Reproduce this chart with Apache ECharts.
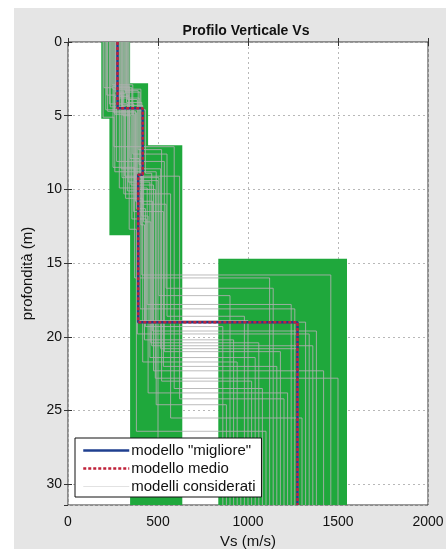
<!DOCTYPE html>
<html><head><meta charset="utf-8">
<script src="https://cdn.jsdelivr.net/npm/echarts@6/dist/echarts.min.js"></script>
<style>html,body{margin:0;padding:0;background:#fff}#c{width:446px;height:549px}</style>
</head><body><div id="c"></div>
<script>
// ---- data ----
const xTicks = [0, 500, 1000, 1500, 2000];
const yTicks = [0, 5, 10, 15, 20, 25, 30];
const depthMax = 31.4;
// search ranges: [VsMin, VsMax, depthTop, depthBottom]
const searchRanges = [
  [185, 345, 0, 5.2],
  [230, 445, 2.8, 13.1],
  [345, 635, 7.0, 31.4],
  [835, 1550, 14.7, 31.4]
];
// best / mean model
const bestVs = [275, 415, 390, 1275];
const bestDepth = [4.5, 9.0, 19.0];
const meanVs = [275, 415, 390, 1275];
const meanDepth = [4.5, 9.0, 19.0];
// considered models
const vs1 = [200, 215, 230, 245, 255, 265, 275, 285, 295, 305, 315, 325, 335, 210, 240, 260, 280, 300, 320, 340, 220, 250, 270, 290, 310, 330, 195, 235, 265, 300];
const d1  = [3.1, 3.6, 4.2, 2.9, 4.8, 3.4, 4.5, 3.9, 4.4, 5.0, 3.3, 4.1, 3.7, 4.6, 3.0, 4.9, 3.8, 4.3, 3.5, 4.0, 4.7, 3.2, 4.5, 3.6, 4.2, 3.9, 5.1, 4.4, 3.1, 4.6];
const vs2 = [250, 300, 330, 360, 380, 400, 420, 270, 320, 350, 390, 410, 260, 310, 340, 370, 395, 415, 285, 345, 375, 405, 295, 335, 365, 385, 255, 315, 355, 430];
const d2  = [8.5, 9.2, 10.1, 7.6, 11.3, 9.0, 12.2, 8.1, 10.6, 9.7, 7.3, 11.8, 8.8, 10.3, 12.7, 9.4, 8.3, 11.0, 9.9, 7.9, 10.8, 12.4, 8.6, 9.5, 11.5, 10.0, 7.1, 9.1, 12.0, 8.9];
const vs3 = [370, 505, 400, 550, 430, 385, 460, 535, 415, 475, 520, 445, 490, 570, 380, 500, 410, 545, 440, 395, 470, 425, 515, 455, 530, 485, 590, 620, 435, 465];
const d3  = [16.0, 17.2, 18.1, 18.6, 19.3, 19.8, 20.4, 21.0, 21.7, 22.3, 23.0, 23.8, 24.6, 25.5, 26.4, 27.5, 15.8, 16.7, 17.8, 18.9, 19.6, 20.2, 20.8, 21.4, 22.0, 22.8, 23.5, 24.2, 19.0, 20.6];
const vs4 = [1120, 900, 1260, 980, 860, 1340, 1060, 1180, 940, 1420, 1020, 1220, 880, 1300, 1100, 960, 1460, 1140, 1240, 1000, 1380, 920, 1280, 1040, 1160, 1500, 1080, 1200, 1320, 1360];

function profile(vs, ds) {
  const pts = [];
  let top = 0;
  for (let i = 0; i < vs.length; i++) {
    const bot = i < ds.length ? ds[i] : depthMax;
    pts.push([vs[i], top], [vs[i], bot]);
    top = bot;
  }
  return pts;
}

const FONT = 'Liberation Sans, Arial, sans-serif';
const series = [];
series.push({
  type: 'custom', name: 'range', silent: true, z: 1,
  renderItem: function (params, api) {
    const p1 = api.coord([api.value(0), api.value(2)]);
    const p2 = api.coord([api.value(1), api.value(3)]);
    return {
      type: 'rect',
      shape: { x: p1[0], y: p1[1], width: p2[0] - p1[0], height: p2[1] - p1[1] },
      style: { fill: '#1fa83c' }
    };
  },
  data: searchRanges
});
for (let i = 0; i < vs1.length; i++) {
  series.push({
    type: 'line', name: 'modelli considerati', symbol: 'none', silent: true, z: 2,
    lineStyle: { color: '#b0b0b0', width: 1, opacity: 0.85 }, itemStyle: { color: '#dddddd' },
    data: profile([vs1[i], vs2[i], vs3[i], vs4[i]], [d1[i], d2[i], d3[i]])
  });
}
series.push({
  type: 'line', name: 'modello "migliore"', symbol: 'none', z: 3,
  lineStyle: { color: '#1f3f8f', width: 2.5 }, itemStyle: { color: '#1f3f8f' },
  data: profile(bestVs, bestDepth)
});
series.push({
  type: 'line', name: 'modello medio', symbol: 'none', z: 4,
  lineStyle: { color: '#c0223a', width: 2.5, type: [3, 2] }, itemStyle: { color: '#c0223a' },
  data: profile(meanVs, meanDepth)
});

const fmt = function (v) { return String(v); };
const chart = echarts.init(document.getElementById('c'));
chart.setOption({
  animation: false,
  backgroundColor: '#ffffff',
  graphic: [{ type: 'rect', z: -10, shape: { x: 14, y: 8, width: 432, height: 541 }, style: { fill: '#e5e5e5' } }],
  title: {
    text: 'Profilo Verticale Vs', left: 241, top: 19, textAlign: 'center',
    textStyle: { fontFamily: FONT, fontSize: 14, fontWeight: 'bold', color: '#111' }
  },
  legend: {
    data: [
      { name: 'modello "migliore"', lineStyle: { color: '#1f3f8f', width: 2.5 } },
      { name: 'modello medio', lineStyle: { color: '#c0223a', width: 2.5, type: [3, 2] } },
      { name: 'modelli considerati', lineStyle: { color: '#dddddd', width: 1 } }
    ],
    orient: 'vertical', left: 75, top: 438,
    backgroundColor: '#ffffff', borderColor: '#111', borderWidth: 1,
    padding: [5, 6, 3, 7], itemGap: 3, itemWidth: 46, itemHeight: 15,
    itemStyle: { opacity: 0 },
    textStyle: { fontFamily: FONT, fontSize: 15, lineHeight: 15, color: '#111', padding: [0, 0, 0, -3] },
    selectedMode: false
  },
  grid: { left: 68, right: 18, top: 42, bottom: 44, outerBoundsMode: 'none', containLabel: false, show: true, backgroundColor: '#fff', borderColor: '#333', borderWidth: 1 },
  xAxis: [{
    type: 'value', min: xTicks[0], max: xTicks[xTicks.length - 1], interval: 500, position: 'bottom',
    name: 'Vs (m/s)', nameLocation: 'middle', nameGap: 20,
    nameTextStyle: { fontFamily: FONT, fontSize: 15, color: '#111' },
    axisLine: { show: false }, axisTick: { inside: true, length: 4, lineStyle: { color: '#333' } },
    axisLabel: { fontFamily: FONT, fontSize: 14, color: '#111', margin: 10, formatter: fmt },
    splitLine: { show: true, lineStyle: { color: '#b8b8b8', type: [2, 3] } }
  }, {
    type: 'value', min: 0, max: 2000, interval: 500, position: 'top',
    axisLine: { show: false }, axisTick: { inside: true, length: 4, lineStyle: { color: '#333' } },
    axisLabel: { show: false }, splitLine: { show: false }
  }],
  yAxis: [{
    type: 'value', inverse: true, min: yTicks[0], max: depthMax, interval: 5,
    name: 'profondità (m)', nameLocation: 'middle', nameGap: 22, nameRotate: 90,
    nameTextStyle: { fontFamily: FONT, fontSize: 15, color: '#111' },
    axisLine: { show: false }, axisTick: { inside: true, length: 4, lineStyle: { color: '#333' } },
    axisLabel: { fontFamily: FONT, fontSize: 14, color: '#111', margin: 6, showMaxLabel: false, formatter: fmt },
    splitLine: { show: true, lineStyle: { color: '#b8b8b8', type: [2, 3] } }
  }, {
    type: 'value', inverse: true, min: 0, max: depthMax, interval: 5, position: 'right',
    axisLine: { show: false }, axisTick: { inside: true, length: 4, lineStyle: { color: '#333' } },
    axisLabel: { show: false }, splitLine: { show: false }
  }],
  series: series
});
</script></body></html>
